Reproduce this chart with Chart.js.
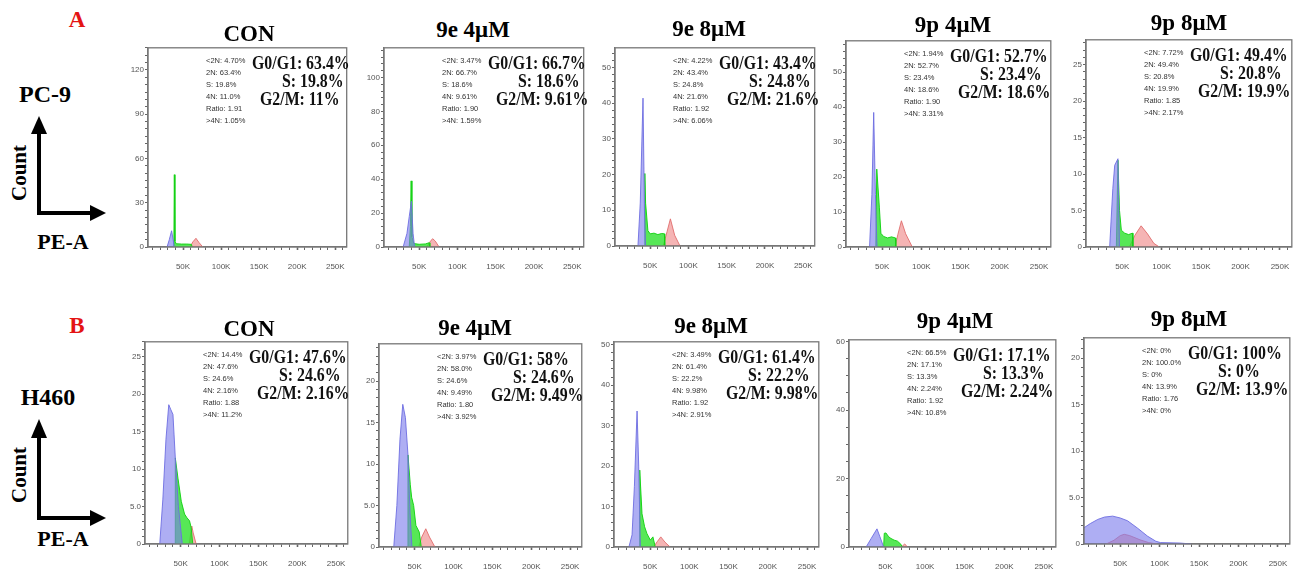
<!DOCTYPE html>
<html>
<head>
<meta charset="utf-8">
<script src="https://cdn.jsdelivr.net/npm/chart.js@4.4.1/dist/chart.umd.min.js"></script>
<style>
  body { margin:0; background:#fff; width:1308px; height:573px; position:relative; overflow:hidden; font-family:"Liberation Serif", "Times New Roman", serif; }
  .lbl { position:absolute; font-weight:bold; line-height:1; white-space:nowrap; transform:translate(-50%,-50%); color:#000; }
  .title { font-size:23px; }
  .tag { font-size:23px; color:#e41414; }
  .cell { font-size:24px; }
  .axisname { font-size:22px; }
  .count { font-size:21px; transform:translate(-50%,-50%) rotate(-90deg); }
  .small { position:absolute; font-family:"Liberation Sans", Arial, sans-serif; font-size:7.5px; line-height:12px; color:#333; white-space:nowrap; }
  .big { position:absolute; font-weight:bold; font-size:18px; line-height:1; white-space:nowrap; color:#111; transform-origin:left center; transform:translateY(-50%) scaleX(0.88); }
  canvas { position:absolute; }
  svg { position:absolute; left:0; top:0; }
</style>
</head>
<body>
<svg width="1308" height="573">
  <g stroke="#000" stroke-width="4" stroke-linecap="square" fill="#000">
    <line x1="39" y1="213" x2="39" y2="130"/>
    <line x1="39" y1="213" x2="92" y2="213"/>
    <polygon points="31,134 39,116 47,134" stroke="none"/>
    <polygon points="90,205 106,213 90,221" stroke="none"/>
    <line x1="39" y1="518" x2="39" y2="435"/>
    <line x1="39" y1="518" x2="92" y2="518"/>
    <polygon points="31,438 39,419 47,438" stroke="none"/>
    <polygon points="90,510 106,518 90,526" stroke="none"/>
  </g>
</svg>
<div class="lbl tag" style="left:77px;top:19px">A</div>
<div class="lbl cell" style="left:45px;top:94px">PC-9</div>
<div class="lbl count" style="left:19px;top:173px">Count</div>
<div class="lbl axisname" style="left:63px;top:242px">PE-A</div>
<div class="lbl tag" style="left:77px;top:325px">B</div>
<div class="lbl cell" style="left:48px;top:397px">H460</div>
<div class="lbl count" style="left:19px;top:475px">Count</div>
<div class="lbl axisname" style="left:63px;top:539px">PE-A</div>

<script>
// PE-A axis (K) and tick labels
const xMin = 4, xMax = 265;
const xTickVals = [10,20,30,40,50,60,70,80,90,100,110,120,130,140,150,160,170,180,190,200,210,220,230,240,250,260];
const xTickLabels = {50:'50K', 100:'100K', 150:'150K', 200:'200K', 250:'250K'};

// histogram outlines [PE-A in K, count]: G1 = blue, S = green, G2 = red
// PC-9
const aConG1 = [[29,0],[32,5],[35,11],[37,5],[38.5,0]];
const aConS  = [[37,0],[38,3],[38.6,49],[39.4,4],[41,2.2],[48,2],[55,2],[61,1.8],[62,0]];
const aConG2 = [[59,0],[63,3.5],[67,5.9],[71,3],[76,0]];

const a9e4G1 = [[29,0],[34,8],[37,18],[39.8,27],[42,8],[44,0]];
const a9e4S  = [[37,0],[38.5,12],[39.5,39],[40.5,6],[43,2],[50,1.6],[58,1.8],[63,2.5],[64,0]];
const a9e4G2 = [[60,0],[64,3],[67.5,4.9],[71,3.5],[76,0]];

const a9e8G1 = [[34,0],[37,12],[40.6,41.4],[42.5,10],[44,0]];
const a9e8S  = [[42,0],[43,20.3],[44,12],[47,4.3],[50,3.4],[55,3.6],[60,3.2],[65,3.5],[68.6,3.4],[69,0]];
const a9e8G2 = [[67,0],[72,4],[76.4,7.6],[82,3],[89,0]];

const a9p4G1 = [[34,0],[37,15],[39.3,38.5],[41.5,15],[43.5,0]];
const a9p4S  = [[42,0],[43.2,22.3],[46.5,11.4],[48.5,3.9],[52,3],[57,2.6],[62,2.9],[67,2.6],[67.5,0]];
const a9p4G2 = [[66.5,0],[70,3.5],[74.6,7.5],[80,3.8],[88.5,0]];

const a9p8G1 = [[34,0],[38,8],[40.4,11.2],[44.5,12.1],[46.5,0]];
const a9p8S  = [[42.5,0],[44.5,11.9],[46.5,5],[48.8,2.3],[53,1.9],[58,1.7],[63,1.9],[63.5,0]];
const a9p8G2 = [[59,0],[66,1.6],[73.9,2.9],[82,1.8],[90,0.5],[97,0]];

// H460
const bConG1 = [[23,0],[27,6],[31,14],[34.6,18.6],[37,18],[40,17.3],[43,11.5],[47,5],[52,0]];
const bConS  = [[43,0],[43,11.5],[46.4,8.8],[50.7,5.7],[54.9,4],[58,3.5],[61.3,3.1],[63.4,2.2],[65.5,0]];
const bConG2 = [[61,0],[64.2,2.4],[66,1.5],[69.8,0]];

const b9e4G1 = [[23,0],[27,5],[31,13],[34.6,17.2],[38,15.6],[41.3,11.1],[44,4],[46.4,0]];
const b9e4S  = [[41.3,0],[41.3,11.1],[44.3,7.5],[46,6],[48.6,5],[51.5,2.6],[55.8,1.8],[58.4,0]];
const b9e4G2 = [[55,0],[59,1.2],[64.2,2.2],[69,1.2],[76,0]];

const b9e8G1 = [[23,0],[27,3],[30,15],[33.4,33.6],[35.5,20],[37.6,0]];
const b9e8S  = [[36.8,0],[36.8,19],[39.7,8.2],[43,5],[46,3.3],[50.3,1.7],[53.6,2.5],[56.6,0]];
const b9e8G2 = [[54.4,0],[59,1.3],[63.6,2.5],[69,1.2],[75.5,0]];

const b9p4G1 = [[25.6,0],[32,2.5],[39.3,5.3],[43,3],[47.7,0]];
const b9p4S  = [[47.7,0],[48.5,4],[50.6,4.1],[54,3],[56.9,2.5],[61,2],[65.2,1.7],[69.4,0.8],[71.4,0]];
const b9p4G2 = [[70.2,0],[74.3,0.9],[77.7,0]];

const b9p8G1 = [[4,1.75],[12,2.2],[21.6,2.65],[30,2.9],[40.4,3.0],[50,2.8],[59.2,2.5],[72,1.7],[84.3,0.86],[95,0.3],[101,0.15],[126,0.1],[140,0]];
const b9p8S  = [];
const b9p8G2 = [[32,0],[42,0.4],[50,0.9],[55,1.04],[62,0.9],[75,0.45],[86,0.15],[97,0]];

// FlowJo statistics boxes
const aConStats = ['<2N: 4.70%','2N: 63.4%','S: 19.8%','4N: 11.0%','Ratio: 1.91','>4N: 1.05%'];
const a9e4Stats = ['<2N: 3.47%','2N: 66.7%','S: 18.6%','4N: 9.61%','Ratio: 1.90','>4N: 1.59%'];
const a9e8Stats = ['<2N: 4.22%','2N: 43.4%','S: 24.8%','4N: 21.6%','Ratio: 1.92','>4N: 6.06%'];
const a9p4Stats = ['<2N: 1.94%','2N: 52.7%','S: 23.4%','4N: 18.6%','Ratio: 1.90','>4N: 3.31%'];
const a9p8Stats = ['<2N: 7.72%','2N: 49.4%','S: 20.8%','4N: 19.9%','Ratio: 1.85','>4N: 2.17%'];
const bConStats = ['<2N: 14.4%','2N: 47.6%','S: 24.6%','4N: 2.16%','Ratio: 1.88','>4N: 11.2%'];
const b9e4Stats = ['<2N: 3.97%','2N: 58.0%','S: 24.6%','4N: 9.49%','Ratio: 1.80','>4N: 3.92%'];
const b9e8Stats = ['<2N: 3.49%','2N: 61.4%','S: 22.2%','4N: 9.98%','Ratio: 1.92','>4N: 2.91%'];
const b9p4Stats = ['<2N: 66.5%','2N: 17.1%','S: 13.3%','4N: 2.24%','Ratio: 1.92','>4N: 10.8%'];
const b9p8Stats = ['<2N: 0%','2N: 100.0%','S: 0%','4N: 13.9%','Ratio: 1.76','>4N: 0%'];

// G0/G1, S, G2/M
const aConPhase = ['63.4%','19.8%','11%'];
const a9e4Phase = ['66.7%','18.6%','9.61%'];
const a9e8Phase = ['43.4%','24.8%','21.6%'];
const a9p4Phase = ['52.7%','23.4%','18.6%'];
const a9p8Phase = ['49.4%','20.8%','19.9%'];
const bConPhase = ['47.6%','24.6%','2.16%'];
const b9e4Phase = ['58%','24.6%','9.49%'];
const b9e8Phase = ['61.4%','22.2%','9.98%'];
const b9p4Phase = ['17.1%','13.3%','2.24%'];
const b9p8Phase = ['100%','0%','13.9%'];

const panels = [
  {title:'CON',    g1:aConG1, s:aConS, g2:aConG2, stats:aConStats, phase:aConPhase, yMax:135,  major:30, minor:5, box:[148,46,349,247],  tpos:[249,33]},
  {title:'9e 4μM', g1:a9e4G1, s:a9e4S, g2:a9e4G2, stats:a9e4Stats, phase:a9e4Phase, yMax:117.5, major:20, minor:4, box:[384,46,586,247],  tpos:[473,29]},
  {title:'9e 8μM', g1:a9e8G1, s:a9e8S, g2:a9e8G2, stats:a9e8Stats, phase:a9e8Phase, yMax:55.5, major:10, minor:2, box:[615,46,817,246],  tpos:[709,28]},
  {title:'9p 4μM', g1:a9p4G1, s:a9p4S, g2:a9p4G2, stats:a9p4Stats, phase:a9p4Phase, yMax:59,   major:10, minor:2, box:[846,39,1053,247], tpos:[953,24]},
  {title:'9p 8μM', g1:a9p8G1, s:a9p8S, g2:a9p8G2, stats:a9p8Stats, phase:a9p8Phase, yMax:28.4, major:5,  minor:1, box:[1086,38,1294,247],tpos:[1189,22]},
  {title:'CON',    g1:bConG1, s:bConS, g2:bConG2, stats:bConStats, phase:bConPhase, yMax:27,   major:5,  minor:1, box:[145,340,350,544], tpos:[249,328]},
  {title:'9e 4μM', g1:b9e4G1, s:b9e4S, g2:b9e4G2, stats:b9e4Stats, phase:b9e4Phase, yMax:24.5, major:5,  minor:1, box:[379,342,584,547], tpos:[475,327]},
  {title:'9e 8μM', g1:b9e8G1, s:b9e8S, g2:b9e8G2, stats:b9e8Stats, phase:b9e8Phase, yMax:50.7, major:10, minor:2, box:[614,340,821,547], tpos:[711,325]},
  {title:'9p 4μM', g1:b9p4G1, s:b9p4S, g2:b9p4G2, stats:b9p4Stats, phase:b9p4Phase, yMax:60.5, major:20, minor:5, box:[849,338,1058,547], tpos:[955,320]},
  {title:'9p 8μM', g1:b9p8G1, s:b9p8S, g2:b9p8G2, stats:b9p8Stats, phase:b9p8Phase, yMax:22.2, major:5,  minor:1, box:[1084,336,1292,544],tpos:[1189,318]}
];

// frame round the plot area
const boxPlugin = {
  id: 'frame',
  afterDatasetsDraw(chart) {
    const { ctx, chartArea: a } = chart;
    ctx.save();
    ctx.strokeStyle = '#777';
    ctx.lineWidth = 1.3;
    ctx.strokeRect(a.left, a.top, a.right - a.left, a.bottom - a.top);
    ctx.restore();
  }
};

const YW = 24, PT = 4, PR = 6, XH = 30;
const tickFont = { family: 'Liberation Sans', size: 8 };

function addDiv(cls, text, left, top) {
  const d = document.createElement('div');
  d.className = cls;
  d.textContent = text;
  d.style.left = left + 'px';
  d.style.top = top + 'px';
  document.body.appendChild(d);
  return d;
}

function drawPanel(p) {
  const [L, T, R, B] = p.box;
  const w = R - L, h = B - T;
  const cv = document.createElement('canvas');
  cv.width = YW + w + PR;
  cv.height = PT + h + XH;
  cv.style.left = (L - YW) + 'px';
  cv.style.top = (T - PT) + 'px';
  document.body.appendChild(cv);

  const pts = arr => arr.map(d => ({ x: d[0], y: d[1] }));
  const yTicks = [];
  for (let v = 0; v <= p.yMax + 1e-9; v += p.minor) yTicks.push(Math.round(v * 100) / 100);

  new Chart(cv, {
    type: 'line',
    data: {
      datasets: [
        { data: pts(p.g1), borderColor: 'rgba(110,110,225,0.9)', backgroundColor: 'rgba(125,125,235,0.62)', fill: 'origin' },
        { data: pts(p.s),  borderColor: 'rgba(20,210,20,0.95)',  backgroundColor: 'rgba(45,225,45,0.8)',  fill: 'origin' },
        { data: pts(p.g2), borderColor: 'rgba(225,110,110,0.9)', backgroundColor: 'rgba(238,130,130,0.6)', fill: 'origin' }
      ]
    },
    options: {
      responsive: false,
      animation: false,
      layout: { padding: { top: PT, right: PR, left: 0, bottom: 0 } },
      elements: { point: { radius: 0 }, line: { borderWidth: 1, tension: 0 } },
      plugins: { legend: { display: false }, tooltip: { enabled: false } },
      scales: {
        x: {
          type: 'linear', min: xMin, max: xMax,
          afterFit: s => { s.height = XH; },
          afterBuildTicks: s => { s.ticks = xTickVals.map(v => ({ value: v })); },
          ticks: { autoSkip: false, maxRotation: 0, padding: 12, font: tickFont, color: '#555',
                   callback: v => xTickLabels[v] || '' },
          grid: { drawOnChartArea: false, tickLength: 3, color: '#666',
                  tickWidth: c => (c.tick && xTickLabels[c.tick.value]) ? 1.6 : 1 },
          border: { color: '#777', width: 1.3 }
        },
        y: {
          min: 0, max: p.yMax,
          afterFit: s => { s.width = YW; },
          afterBuildTicks: s => { s.ticks = yTicks.map(v => ({ value: v })); },
          ticks: { autoSkip: false, padding: 1, font: tickFont, color: '#555',
                   callback: v => (Math.abs(v % p.major) < 1e-6) ? (v === 5 ? '5.0' : String(v)) : '' },
          grid: { drawOnChartArea: false, tickLength: 3, color: '#666' },
          border: { color: '#777', width: 1.3 }
        }
      }
    },
    plugins: [boxPlugin]
  });

  // titles and FlowJo text
  addDiv('lbl title', p.title, p.tpos[0], p.tpos[1]);
  const st = addDiv('small', '', L + 58, T + 9);
  st.innerHTML = p.stats.map(s => s.replace(/</g, '&lt;').replace(/>/g, '&gt;')).join('<br>');
  addDiv('big', 'G0/G1: ' + p.phase[0], L + 104, T + 17);
  addDiv('big', 'S: ' + p.phase[1], L + 134, T + 35);
  addDiv('big', 'G2/M: ' + p.phase[2], L + 112, T + 53);
}

panels.forEach(drawPanel);
</script>
</body>
</html>
